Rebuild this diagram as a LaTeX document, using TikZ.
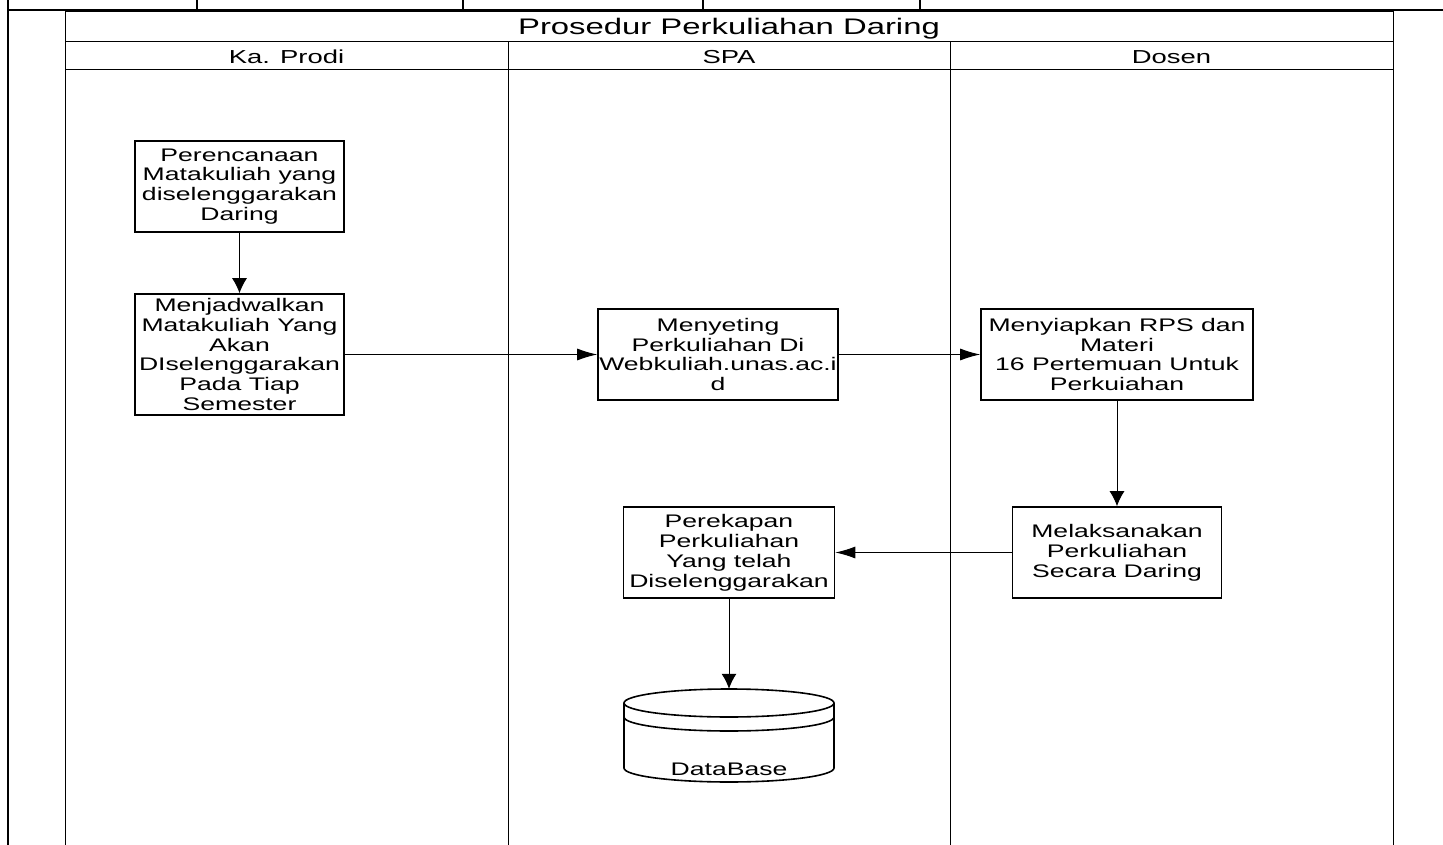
\documentclass[tikz,border=0pt]{standalone}
\usepackage{fontspec}
\setmainfont{Liberation Sans}
\newfontfamily\widefont[FakeStretch=1.46]{Liberation Sans}
\usetikzlibrary{arrows.meta}
\tikzset{
  frame/.style={line width=1pt, draw=black},
  heavy/.style={line width=2pt, draw=black},
  proc/.style={draw, line width=1.6pt, inner sep=0pt, align=center, fill=white,
    font=\widefont\fontsize{18.2}{19.9}\selectfont},
  headtext/.style={inner sep=0pt, font=\widefont\fontsize{18.8}{20}\selectfont},
  titletext/.style={inner sep=0pt, font=\widefont\fontsize{22.5}{24}\selectfont},
  vflow/.style={-{Latex[length=15pt,width=15pt]}, line width=1pt, draw=black},
  hflow/.style={-{Latex[length=20pt,width=12pt]}, line width=1pt, draw=black},
  dbline/.style={line width=1.6pt, draw=black}
}
\begin{document}
\begin{tikzpicture}[x=1pt,y=-1pt]
\useasboundingbox (0,0) rectangle (1443,845);
\fill[white] (0,0) rectangle (1443,845);
% top strip
\draw[heavy] (8,0) -- (8,845);
\draw[heavy] (8,10) -- (1443,10);
\foreach \xx in {197,463,703,920} \draw[line width=1.4pt] (\xx,0) -- (\xx,10);
% pool frame
\draw[frame] (65,845) -- (65,12) -- (1393,12) -- (1393,845);
\draw[frame] (65,42) -- (1393,42);
\draw[frame] (65,70) -- (1393,70);
\draw[frame] (508,42) -- (508,845);
\draw[frame] (950,42) -- (950,845);
% titles
\node[titletext] (title) at (729,28.5) {Prosedur Perkuliahan Daring};
\node[headtext] (h1) at (286.5,57) {Ka. Prodi};
\node[headtext] (h2) at (729,57) {SPA};
\node[headtext] (h3) at (1171.5,57) {Dosen};
% process boxes
\node[proc, minimum width=209pt, minimum height=91pt] (p1) at (239.5,186.5)
  {Perencanaan\\Matakuliah yang\\diselenggarakan\\Daring};
\node[proc, minimum width=209pt, minimum height=121pt] (p2) at (239.5,354.5)
  {Menjadwalkan\\Matakuliah Yang\\Akan\\DIselenggarakan\\Pada Tiap\\Semester};
\node[proc, minimum width=240pt, minimum height=91pt] (p3) at (718,354.5)
  {Menyeting\\Perkuliahan Di\\Webkuliah.unas.ac.i\\d};
\node[proc, minimum width=272pt, minimum height=91pt] (p4) at (1117,354.5)
  {Menyiapkan RPS dan\\Materi\\16 Pertemuan Untuk\\Perkuiahan};
\node[proc, minimum width=209pt, minimum height=91pt] (p5) at (1117,552.5)
  {Melaksanakan\\Perkuliahan\\Secara Daring};
\node[proc, minimum width=211pt, minimum height=91pt] (p6) at (729,552.5)
  {Perekapan\\Perkuliahan\\Yang telah\\Diselenggarakan};
% database
\draw[dbline, fill=white] (624,703) -- (624,768)
  arc[start angle=180, end angle=360, x radius=105pt, y radius=14pt] -- (834,703);
\draw[dbline, fill=white] (729,703) ellipse [x radius=105pt, y radius=14pt];
\draw[dbline] (624,717) arc[start angle=180, end angle=360, x radius=105pt, y radius=14pt];
\node[inner sep=0pt, minimum width=210pt, minimum height=92pt] (db) at (729,735) {};
\node[inner sep=0pt, font=\widefont\fontsize{18.2}{19.9}\selectfont] (dbtext) at (729,769) {DataBase};
% connectors
\draw[vflow] (p1.south) -- (p2.north);
\draw[hflow] (p2.east) -- (p3.west);
\draw[hflow] (p3.east) -- (p4.west);
\draw[vflow] (p4.south) -- (p5.north);
\draw[hflow] (p5.west) -- (p6.east);
\draw[vflow] (p6.south) -- (db.north);
\end{tikzpicture}
\end{document}
